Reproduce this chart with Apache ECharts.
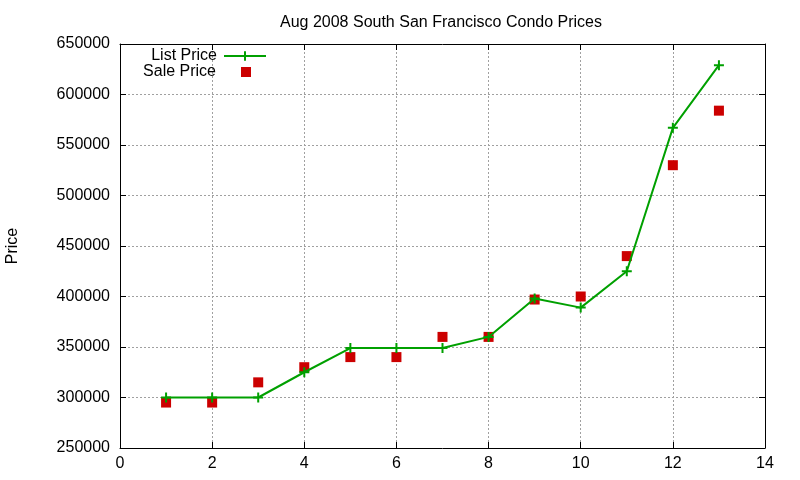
<!DOCTYPE html>
<html>
<head>
<meta charset="utf-8">
<script src="https://cdn.jsdelivr.net/npm/echarts@6/dist/echarts.min.js"></script>
<style>
  html, body { margin: 0; padding: 0; background: #fff; }
  #chart { width: 800px; height: 480px; }
</style>
</head>
<body>
<div id="chart"></div>
<script>
// data
const months = [1, 2, 3, 4, 5, 6, 7, 8, 9, 10, 11, 12, 13];
const listPrice = [300000, 300000, 300000, 325000, 349000, 349000, 349000, 360000, 398000, 389000, 425000, 567000, 629000];
const salePrice = [295000, 295000, 315000, 330000, 340000, 340000, 360000, 360000, 397000, 400000, 440000, 530000, 584000];

const font = 'Liberation Sans, Arial, sans-serif';
const crossIcon = 'path://M0,5L10,5M5,0L5,10';

const chart = echarts.init(document.getElementById('chart'));

// hidden mirror axes give the gnuplot box with ticks on all four sides
const gridLine = { show: true, lineStyle: { color: '#a0a0a0', type: [2, 2], width: 1 } };
const axLine = { show: true, onZero: false, lineStyle: { color: '#000', width: 1 } };
const tick = { show: true, inside: true, length: 6, lineStyle: { color: '#000' } };

chart.setOption({
    animation: false,
    title: {
        text: 'Aug 2008 South San Francisco Condo Prices',
        left: 275, top: 10,
        textStyle: { fontFamily: font, fontSize: 16, fontWeight: 'normal', color: '#000' }
    },
    grid: { left: 120, right: 35, top: 44, bottom: 32, outerBoundsMode: 'none', containLabel: false },
    legend: [{
        data: ['List Price'],
        orient: 'vertical', align: 'right',
        right: 528, top: 43,
        itemWidth: 42, itemHeight: 12,
        textStyle: { fontFamily: font, fontSize: 16, color: '#000', padding: [0, 2, 0, 0] }
    }, {
        data: [{ name: 'Sale Price', icon: 'rect' }],
        orient: 'vertical', align: 'right',
        right: 544, top: 59,
        itemWidth: 10, itemHeight: 10,
        textStyle: { fontFamily: font, fontSize: 16, color: '#000', padding: [0, 20, 0, 0] }
    }],
    xAxis: [{
        type: 'value', min: 0, max: 14, interval: 2,
        axisLine: axLine, axisTick: tick, splitLine: gridLine,
        axisLabel: { fontFamily: font, fontSize: 16, color: '#000', margin: 8 }
    }, {
        type: 'value', position: 'top', min: 0, max: 14, interval: 2,
        axisLine: axLine, axisTick: tick, splitLine: { show: false },
        axisLabel: { show: false }
    }],
    yAxis: [{
        type: 'value', min: 250000, max: 650000, interval: 50000,
        name: 'Price', nameLocation: 'middle', nameGap: 99,
        nameTextStyle: { fontFamily: font, fontSize: 16, color: '#000' },
        axisLine: axLine, axisTick: tick, splitLine: gridLine,
        axisLabel: { fontFamily: font, fontSize: 16, color: '#000', margin: 10, formatter: v => String(v) }
    }, {
        type: 'value', position: 'right', min: 250000, max: 650000, interval: 50000,
        axisLine: axLine, axisTick: tick, splitLine: { show: false },
        axisLabel: { show: false }
    }],
    series: [{
        name: 'List Price',
        type: 'line',
        data: months.map((m, i) => [m, listPrice[i]]),
        symbol: crossIcon,
        symbolSize: 10,
        showAllSymbol: true,
        lineStyle: { color: '#00a000', width: 2 },
        itemStyle: { color: 'none', borderColor: '#00a000', borderWidth: 2 },
        z: 3
    }, {
        name: 'Sale Price',
        type: 'scatter',
        data: months.map((m, i) => [m, salePrice[i]]),
        symbol: 'rect',
        symbolSize: 10,
        itemStyle: { color: '#cc0000', opacity: 1 },
        z: 2
    }]
});
</script>
</body>
</html>
